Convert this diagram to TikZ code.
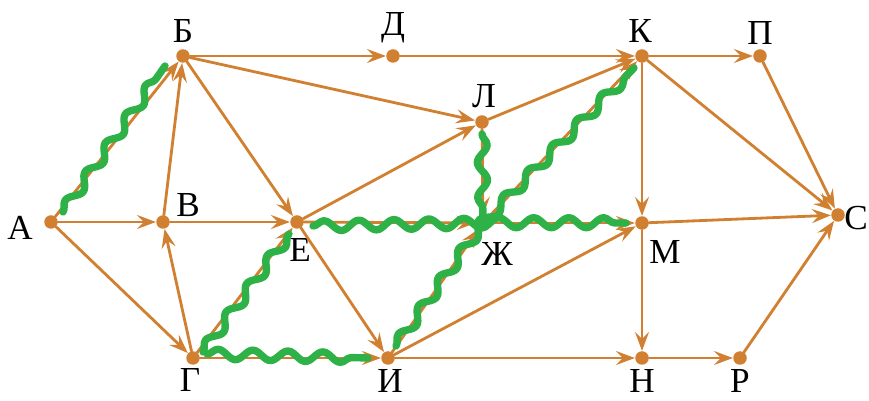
\documentclass[tikz,border=0pt]{standalone}
\usepackage{fontspec}
\setmainfont{Liberation Serif}
\usetikzlibrary{arrows.meta,decorations.pathmorphing}
\definecolor{orgraf}{RGB}{208,128,48}
\definecolor{grpath}{RGB}{46,178,72}
\begin{document}
\begin{tikzpicture}[x=0.02cm, y=-0.02cm, font=\fontsize{20}{21}\selectfont, line join=round, line cap=round,
	dot/.style={circle, fill=orgraf, inner sep=0pt, minimum size=0.27cm},
	arr/.style={draw=orgraf, line width=1.6pt, -{Stealth[length=0.38cm, width=0.28cm, inset=0.14cm]}},
	wave/.style={draw=grpath, line width=4.2pt, decorate, decoration={snake, amplitude=0.1cm, segment length=0.7cm}}]
	\useasboundingbox (0,0) rectangle (869,401);
	% vertices
	\node[dot] (A) at (51,222) {};
	\node[dot] (B) at (183,56) {};
	\node[dot] (V) at (163,222) {};
	\node[dot] (G) at (193,358) {};
	\node[dot] (D) at (393,56) {};
	\node[dot] (E) at (297,222) {};
	\node[dot] (Zh) at (483,223) {};
	\node[dot] (I) at (388,358) {};
	\node[dot] (K) at (642,56) {};
	\node[dot] (L) at (482,122) {};
	\node[dot] (M) at (642,223) {};
	\node[dot] (N) at (642,358) {};
	\node[dot] (P) at (760,56) {};
	\node[dot] (R) at (740,358) {};
	\node[dot] (S) at (838,215) {};
	% labels
	\node (lA) at (20,228) {А};
	\node (lB) at (183,31) {Б};
	\node (lV) at (188,205) {В};
	\node (lG) at (190,380) {Г};
	\node (lD) at (393,28) {Д};
	\node (lE) at (300,250) {Е};
	\node (lZh) at (497,254) {Ж};
	\node (lI) at (390,381) {И};
	\node (lK) at (640,31) {К};
	\node (lL) at (484,96) {Л};
	\node (lM) at (665,252) {М};
	\node (lN) at (642,381) {Н};
	\node (lP) at (760,33) {П};
	\node (lR) at (740,381) {Р};
	\node (lS) at (856,218) {С};
	% arcs
	\draw[arr] (A) -- (B);
	\draw[arr] (A) -- (V);
	\draw[arr] (A) -- (G);
	\draw[arr] (V) -- (B);
	\draw[arr] (G) -- (V);
	\draw[arr] (B) -- (D);
	\draw[arr] (B) -- (L);
	\draw[arr] (B) -- (E);
	\draw[arr] (V) -- (E);
	\draw[arr] (G) -- (E);
	\draw[arr] (G) -- (I);
	\draw[arr] (E) -- (L);
	\draw[arr] (E) -- (Zh);
	\draw[arr] (E) -- (I);
	\draw[arr] (D) -- (K);
	\draw[arr] (L) -- (K);
	\draw[arr] (L) -- (Zh);
	\draw[arr] (I) -- (Zh);
	\draw[arr] (Zh) -- (K);
	\draw[arr] (Zh) -- (M);
	\draw[arr] (I) -- (M);
	\draw[arr] (I) -- (N);
	\draw[arr] (K) -- (P);
	\draw[arr] (K) -- (M);
	\draw[arr] (K) -- (S);
	\draw[arr] (P) -- (S);
	\draw[arr] (M) -- (S);
	\draw[arr] (M) -- (N);
	\draw[arr] (N) -- (R);
	\draw[arr] (R) -- (S);
	% paths
	\draw[wave] ([shift={(12,-10)}]A.center) -- ([shift={(-18,10)}]B.center);
	\draw[wave] ([shift={(10,-6)}]G.center) -- ([shift={(-8,12)}]E.center);
	\draw[wave] ([shift={(14,-4)}]G.center) -- ([shift={(-20,0)}]I.center);
	\draw[wave] ([shift={(16,4)}]E.center) -- (Zh.center) -- ([shift={(-16,0)}]M.center);
	\draw[wave] ([shift={(8,-12)}]I.center) -- (Zh.center) -- ([shift={(-8,12)}]K.center);
	\draw[wave] ([shift={(0,12)}]L.center) -- (Zh.center);
\end{tikzpicture}
\end{document}
